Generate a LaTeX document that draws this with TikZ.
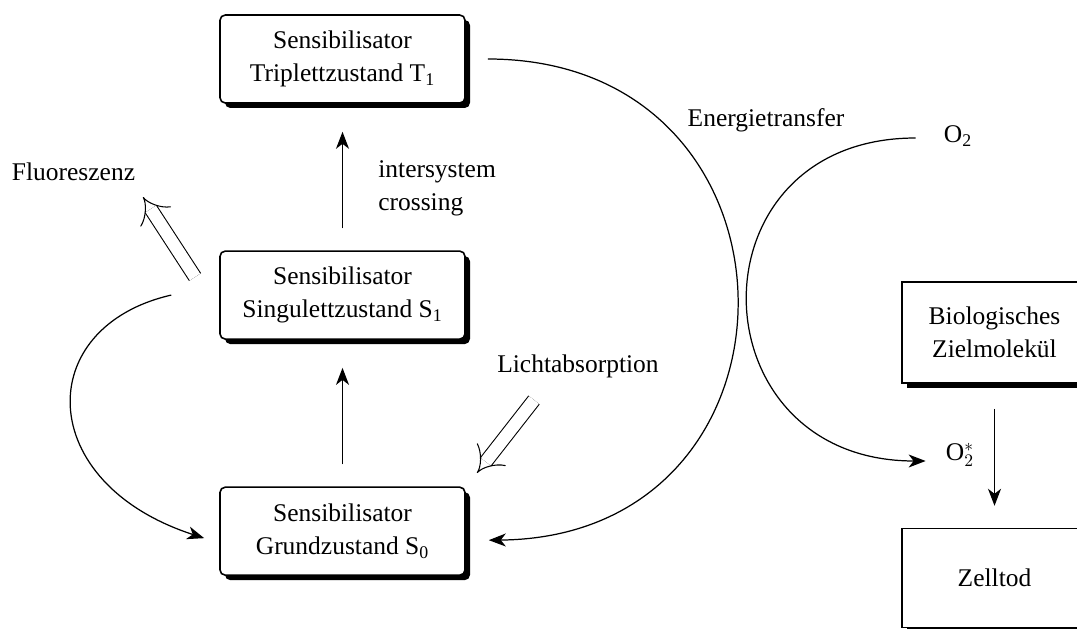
\documentclass[tikz,border=0pt]{standalone}
\usepackage{fontspec}
\setmainfont{Liberation Serif}
\usetikzlibrary{arrows.meta,positioning,shadows}
\newcommand{\figfont}{\fontsize{14.5}{18.8}\selectfont}
\tikzset{
  statebox/.style={
    rectangle, rounded corners=3pt, draw=black, line width=0.9pt,
    fill=white, minimum width=4.9cm, minimum height=1.76cm,
    align=center, font=\figfont,
    drop shadow={shadow xshift=0.1cm, shadow yshift=-0.1cm, opacity=1, fill=black}
  },
  targetbox/.style={
    rectangle, draw=black, line width=0.9pt,
    fill=white, minimum width=3.7cm, minimum height=2.02cm,
    align=center, font=\figfont,
    drop shadow={shadow xshift=0.1cm, shadow yshift=-0.1cm, opacity=1, fill=black}
  },
  lbl/.style={font=\figfont, inner sep=0pt},
  flowarrow/.style={-{Stealth[length=3.4mm, width=2.6mm, inset=1mm]}, line width=0.7pt},
  lightarrow/.style={-{Implies}, double, double distance=7pt, line width=0.6pt},
}

\begin{document}
\begin{tikzpicture}[node distance=2.93cm]
  \useasboundingbox (0,0) rectangle (21.54,-12.56);

  % Sensibilisator states
  \node[statebox] (t1) at (6.85,-1.18) {Sensibilisator\\Triplettzustand T\textsubscript{1}};
  \node[statebox, below=of t1] (s1) {Sensibilisator\\Singulettzustand S\textsubscript{1}};
  \node[statebox, below=of s1] (s0) {Sensibilisator\\Grundzustand S\textsubscript{0}};

  % target side
  \node[targetbox] (bio) at (19.89,-6.65) {Biologisches\\Zielmolekül};
  \node[targetbox, minimum height=1.98cm, below=2.88cm of bio] (zell) {Zelltod};

  % labels
  \node[lbl, anchor=west, align=left] (isc) at (7.56,-3.76) {intersystem\\crossing};
  \node[lbl] (fluor) at (1.47,-3.44) {Fluoreszenz};
  \node[lbl] (licht) at (11.56,-7.33) {Lichtabsorption};
  \node[lbl] (etrans) at (15.32,-2.41) {Energietransfer};
  \node[lbl] (o2) at (19.16,-2.72) {O\textsubscript{2}};
  \node[lbl] (o2s) at (19.2,-9.1) {O\ensuremath{_2^*}};

  \coordinate (fl-tail) at (3.9,-5.54);
  \coordinate (fl-tip) at (2.86,-3.94);
  \coordinate (li-tail) at (10.68,-8.0);
  \coordinate (li-tip) at (9.54,-9.46);

  \draw[flowarrow, shorten <=0.44cm, shorten >=0.56cm] (s1) -- (t1);
  \draw[flowarrow, shorten <=0.44cm, shorten >=0.56cm] (s0) -- (s1);
  \draw[lightarrow] (fl-tail) -- (fl-tip);
  \draw[lightarrow] (li-tail) -- (li-tip);

  \draw[flowarrow] ([xshift=-0.96cm]s1.west) .. controls (0.64,-6.54) and (0.68,-9.66) .. ([xshift=-0.3cm, yshift=-0.14cm]s0.west);
  \draw[flowarrow] ([xshift=0.44cm]t1.east) .. controls (16.36,-1.18) and (16.42,-10.74) .. ([xshift=0.46cm, yshift=-0.18cm]s0.east);
  \draw[flowarrow] ([xshift=-0.56cm, yshift=-0.04cm]o2.west) .. controls (13.74,-2.76) and (13.86,-9.22) .. ([xshift=-0.4cm, yshift=-0.12cm]o2s.west);
  \draw[flowarrow, shorten <=0.5cm, shorten >=0.44cm] (bio) -- (zell);
\end{tikzpicture}
\end{document}
